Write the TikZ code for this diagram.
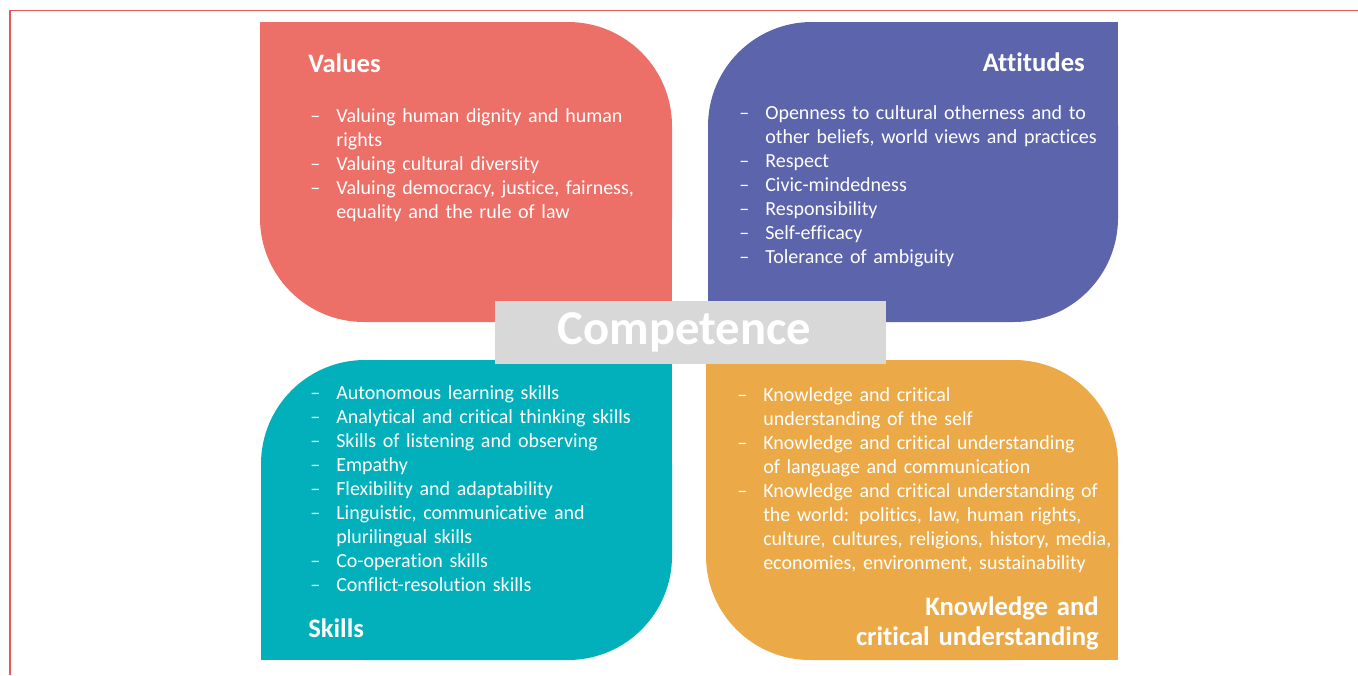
\documentclass[tikz,border=0pt]{standalone}
\usepackage{fontspec}
\setmainfont{Carlito}[Ligatures={TeX,NoCommon}]
\usepackage{xcolor}

\definecolor{framecol}{HTML}{E9575C}
\definecolor{valuescol}{HTML}{EC7068}
\definecolor{attitudescol}{HTML}{5C64AC}
\definecolor{skillscol}{HTML}{02B0BB}
\definecolor{knowcol}{HTML}{EBAA47}
\definecolor{compcol}{HTML}{D8D8D8}

\newcommand{\itm}{\leavevmode\llap{\textendash\hspace{12pt}}}

\begin{document}
\begin{tikzpicture}[x=0.75pt, y=-0.75pt,
	quad/.style={rounded corners=78pt},
	quadtitle/.style={text=white, inner sep=0pt, font=\fontsize{20}{22.5}\selectfont\bfseries},
	quadlist/.style={text=white, inner sep=0pt, align=left, text width=300pt, anchor=base west, font=\fontsize{15}{18}\selectfont}]
	\useasboundingbox (0,0) rectangle (1358,675);

	\draw [framecol, line width=1.3pt] (10,675) -- (10,10.5) -- (1358,10.5);

	% the four quadrants
	\begin{scope}
		\fill [valuescol, quad] (260,22) rectangle (672,322);
		\fill [valuescol] (260,22) rectangle (372,134);
		\fill [valuescol] (560,210) rectangle (672,322);

		\fill [attitudescol, quad] (708,22) rectangle (1118,322);
		\fill [attitudescol] (1006,22) rectangle (1118,134);
		\fill [attitudescol] (708,210) rectangle (820,322);

		\fill [skillscol, quad] (261,360) rectangle (672,660);
		\fill [skillscol] (560,360) rectangle (672,472);
		\fill [skillscol] (261,548) rectangle (373,660);

		\fill [knowcol, quad] (706,360) rectangle (1118,660);
		\fill [knowcol] (706,360) rectangle (818,472);
		\fill [knowcol] (1006,548) rectangle (1118,660);
	\end{scope}

	\node [quadtitle, anchor=base west] (values) at (308,72) {Values};
	\node [quadlist] (valueslist) at (336,122) {\itm Valuing human dignity and human\\ rights\\ \itm Valuing cultural diversity\\ \itm Valuing democracy, justice, fairness,\\ equality and the rule of law};

	\node [quadtitle, anchor=base east] (attitudes) at (1085,71) {Attitudes};
	\node [quadlist] (attitudeslist) at (765,119) {\itm Openness to cultural otherness and to\\ other beliefs, world views and practices\\ \itm Respect\\ \itm Civic-mindedness\\ \itm Responsibility\\ \itm Self-efficacy\\ \itm Tolerance of ambiguity};

	\node [quadlist] (skillslist) at (336,399) {\itm Autonomous learning skills\\ \itm Analytical and critical thinking skills\\ \itm Skills of listening and observing\\ \itm Empathy\\ \itm Flexibility and adaptability\\ \itm Linguistic, communicative and\\ plurilingual skills\\ \itm Co-operation skills\\ \itm Conflict-resolution skills};
	\node [quadtitle, anchor=base west] (skills) at (308,637) {Skills};

	\node [quadlist] (knowlist) at (763,401) {\itm Knowledge and critical\\ understanding of the self\\ \itm Knowledge and critical understanding\\ of language and communication\\ \itm Knowledge and critical understanding of\\ the world: politics, law, human rights,\\ culture, cultures, religions, history, media,\\ economies, environment, sustainability};
	\node [quadtitle, align=right, text width=250pt, anchor=base east] (know) at (1099,615) {Knowledge and\\ critical understanding};

	% centre label
	\node [fill=compcol, minimum width=293.25pt, minimum height=47.25pt, inner sep=0pt, text=white, font=\fontsize{36.5}{40}\selectfont\bfseries] (competence) at (690.5,332.5) {\raisebox{-3pt}{Competence}\hspace*{9pt}};
\end{tikzpicture}
\end{document}
